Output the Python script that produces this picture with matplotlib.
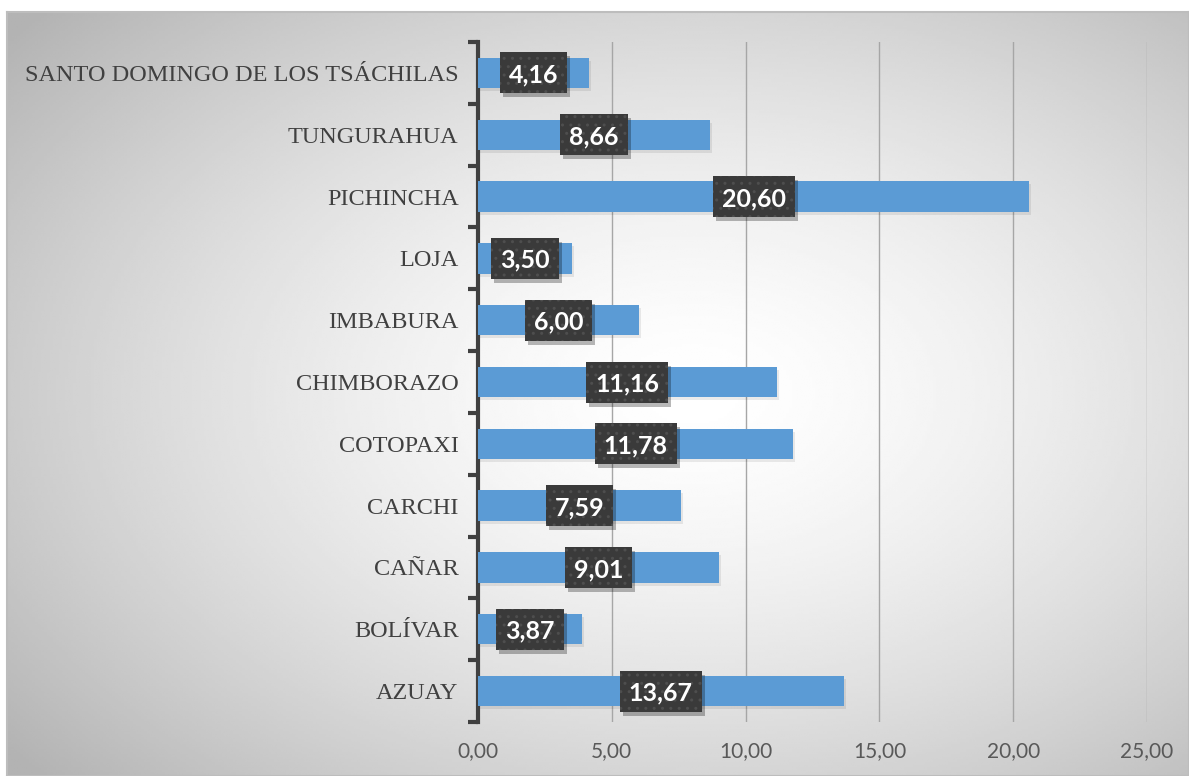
import matplotlib.pyplot as plt
import matplotlib.transforms as mtransforms
from matplotlib.patches import Rectangle
import numpy as np

# data (bottom to top as drawn)
provincias = ['AZUAY', 'BOLÍVAR', 'CAÑAR', 'CARCHI', 'COTOPAXI', 'CHIMBORAZO',
              'IMBABURA', 'LOJA', 'PICHINCHA', 'TUNGURAHUA',
              'SANTO DOMINGO DE LOS TSÁCHILAS']
valores = [13.67, 3.87, 9.01, 7.59, 11.78, 11.16, 6.00, 3.50, 20.60, 8.66, 4.16]
xticks = [0, 5, 10, 15, 20, 25]

fig = plt.figure(figsize=(11.89, 7.76), dpi=100)

# gradient background of the chart area
bg = fig.add_axes([7 / 1189, 0, 1 - 7 / 1189, 1 - 12 / 776], zorder=-5)
gx, gy = np.meshgrid(np.linspace(0, 1, 400), np.linspace(0, 1, 300))
r = np.sqrt(((gx - 0.58) / 0.75) ** 2 + ((gy - 0.5) / 0.75) ** 2)
shade = 1.0 - 0.3 * np.clip(r, 0, 1) ** 1.5
bg.imshow(shade, cmap='gray', vmin=0, vmax=1, aspect='auto',
          extent=[0, 1, 0, 1], interpolation='bilinear')
bg.set_xlim(0, 1)
bg.set_ylim(0, 1)
bg.set_xticks([])
bg.set_yticks([])
for s in bg.spines.values():
    s.set_color('#bdbdbd')
    s.set_linewidth(1.5)

ax = fig.add_axes([478 / 1189, 1 - 722 / 776, 669 / 1189, 680 / 776])
ax.patch.set_alpha(0)
y = np.arange(len(provincias))

# soft shadow under bars
shadow = mtransforms.offset_copy(ax.transData, fig=fig, x=2, y=-3, units='dots')
ax.barh(y, valores, height=0.49, color='black', alpha=0.08, transform=shadow, zorder=2)
ax.barh(y, valores, height=0.49, color='#5b9bd5', zorder=3)

ax.set_xlim(0, 25)
ax.set_ylim(-0.5, len(provincias) - 0.5)
ax.set_xticks(xticks)
ax.set_xticklabels([f'{v:.2f}'.replace('.', ',') for v in xticks],
                   fontsize=15, color='#595959', family='Lato')
ax.tick_params(axis='x', length=0, pad=14)
ax.grid(axis='x', color='#a6a6a6', linewidth=1, zorder=1)

ax.set_yticks(np.arange(-0.5, len(provincias)), minor=False)
ax.set_yticklabels([])
ax.set_yticks(y, minor=True)
ax.set_yticklabels(provincias, minor=True, fontsize=17.5, color='#404040',
                   family='Liberation Serif')
ax.tick_params(axis='y', which='major', length=7, width=3, color='#404040')
ax.tick_params(axis='y', which='minor', length=0, pad=14)

for side in ['top', 'right', 'bottom']:
    ax.spines[side].set_visible(False)
ax.spines['left'].set_color('#404040')
ax.spines['left'].set_linewidth(3)

# value labels centred on bars
labels = []
for yi, v in zip(y, valores):
    txt = f'{v:.2f}'.replace('.', ',')
    t = ax.text(v / 2, yi, txt, ha='center', va='center_baseline', fontsize=18,
                fontweight='bold', family='Lato', color='white', zorder=6)
    labels.append((t, yi))

# dark boxes (with drop shadow) sized from the rendered text
fig.canvas.draw()
ident = mtransforms.IdentityTransform()
for t, yi in labels:
    bb = t.get_window_extent()
    cy = ax.transData.transform((0, yi))[1]
    w = bb.width + 18
    h = 41
    x0 = bb.x0 - 9
    y0 = cy - h / 2
    ax.add_patch(Rectangle((x0 + 3, y0 - 4), w, h, transform=ident,
                           fc='black', ec='none', alpha=0.28, zorder=4))
    ax.add_patch(Rectangle((x0, y0), w, h, transform=ident,
                           fc='#3a3a3a', ec='#4e4e4e', lw=0, hatch='..', zorder=5))

fig.savefig('out.png', dpi=100)
